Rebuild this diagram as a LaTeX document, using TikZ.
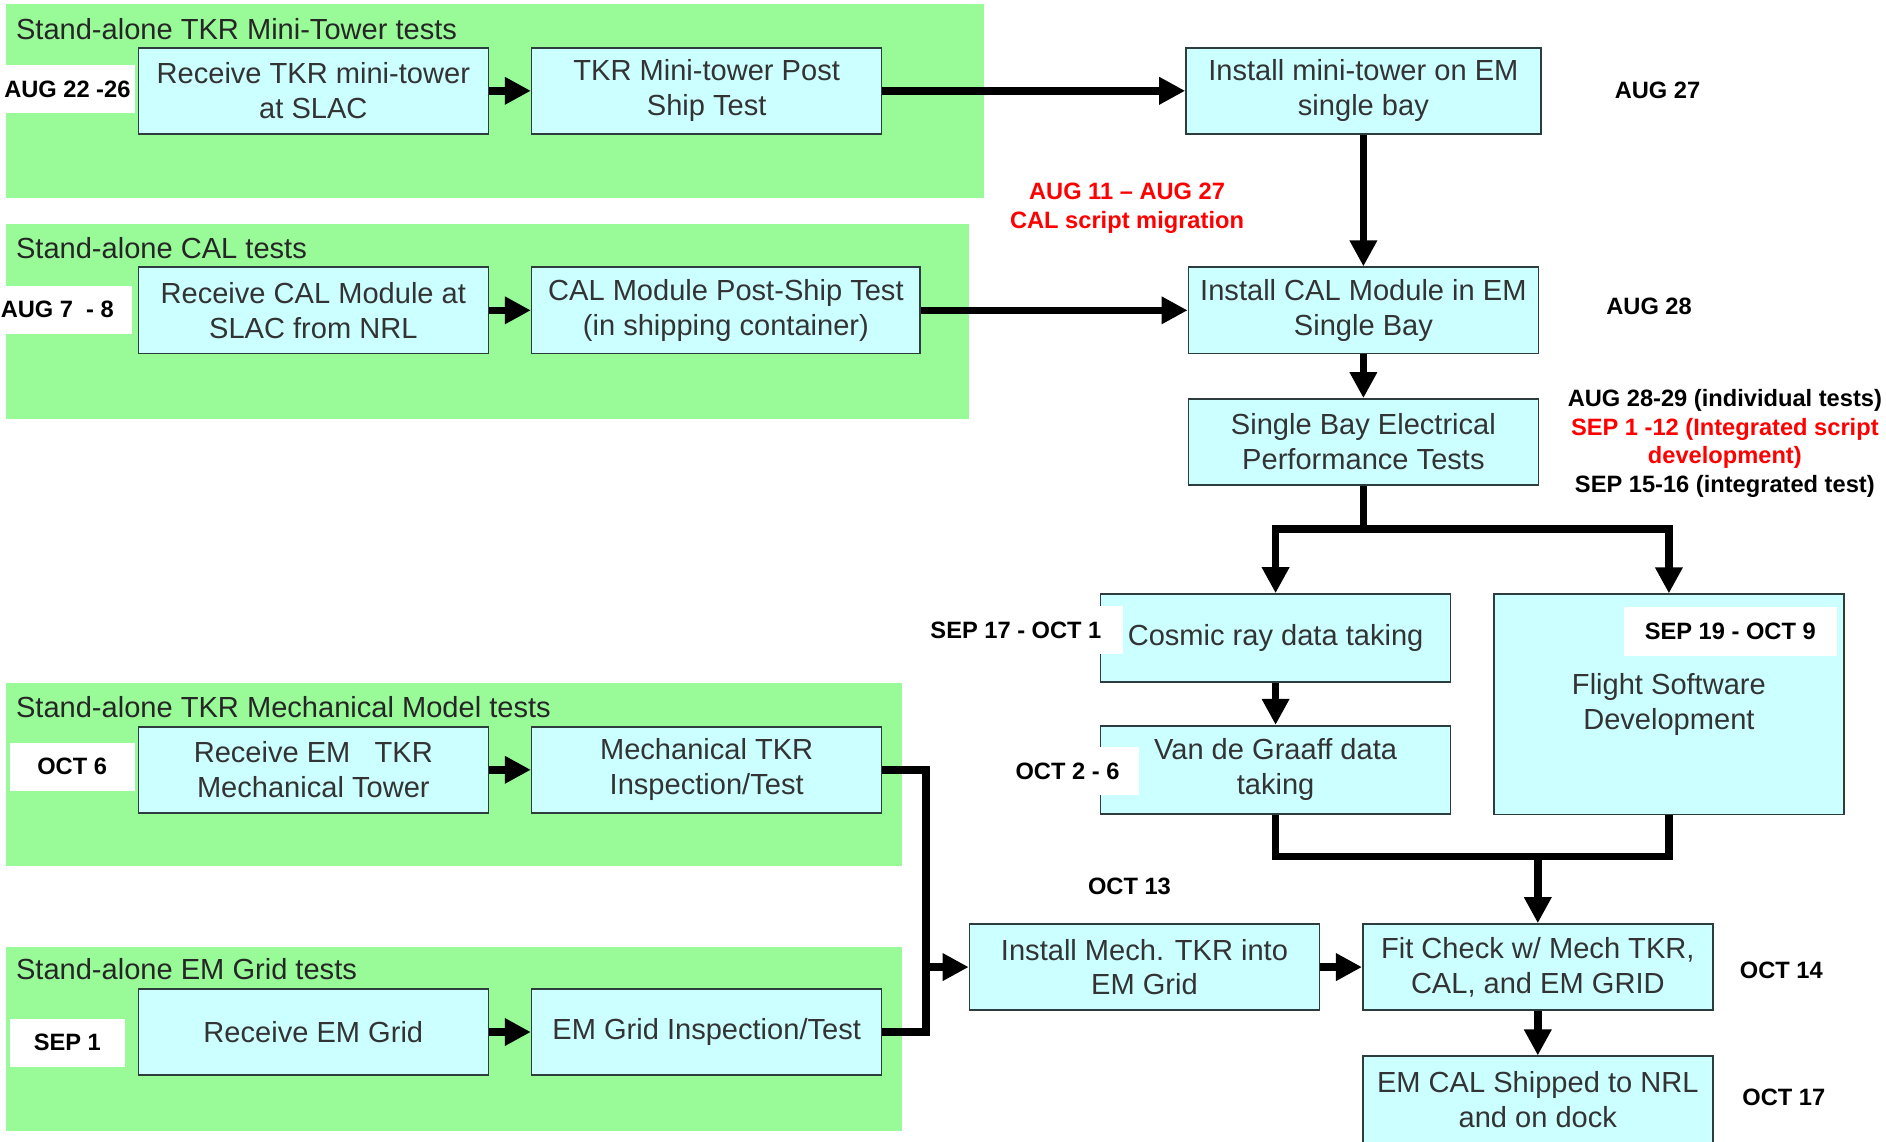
\documentclass[tikz,border=0pt]{standalone}
\usepackage{fontspec}
\setmainfont{Liberation Sans}
\usetikzlibrary{arrows.meta}

\definecolor{grpgreen}{RGB}{152,251,152}
\definecolor{boxcyan}{RGB}{204,255,255}
\definecolor{boxedge}{RGB}{45,60,60}
\newcommand{\boxfont}{\fontsize{14.5}{17.4}\selectfont}
\newcommand{\datefont}{\fontsize{11.8}{14.2}\selectfont\bfseries}

\begin{document}
\begin{tikzpicture}[
x=0.6pt,
y=-0.6pt,
grpbg/.style={
  fill=grpgreen,
  },
grptitle/.style={
  anchor=west,
  font=\boxfont,
  text=black!85,
  inner sep=0pt
  },
task/.style={
  draw=boxedge,
  fill=boxcyan,
  line width=0.8pt,
  align=center,
  font=\boxfont,
  text=black!80,
  minimum width=174.6pt,
  minimum height=43pt,
  inner sep=2pt
  },
datelbl/.style={
  font=\datefont,
  align=center,
  inner sep=0pt
  },
datebox/.style={
  datelbl,
  fill=white,
  minimum height=24pt
  },
flow/.style={
  line width=3.8pt
  },
>={Triangle[length=13pt,width=13pt]}
]
\useasboundingbox (0,0) rectangle (1568,949);

\fill[grpbg] (5,3) rectangle (818,165);
\fill[grpbg] (5,186) rectangle (806,348);
\fill[grpbg] (5,568) rectangle (750,720);
\fill[grpbg] (5,787) rectangle (750,940);
\node[grptitle] (tMini) at (13,24) {Stand-alone TKR Mini-Tower tests};
\node[grptitle] (tCal) at (13,206) {Stand-alone CAL tests};
\node[grptitle] (tMech) at (13,588) {Stand-alone TKR Mechanical Model tests};
\node[grptitle] (tGrid) at (13,806) {Stand-alone EM Grid tests};

\node[task] (recvTkr) at (260.5,75.5) {Receive TKR mini-tower\\at SLAC};
\node[task] (postTkr) at (587.5,75.5) {TKR Mini-tower Post\\Ship Test};
\node[task, minimum width=177pt] (installMini) at (1133.5,75.5) {Install mini-tower on EM\\single bay};
\node[task] (recvCal) at (260.5,258) {Receive CAL Module at\\SLAC from NRL};
\node[task, minimum width=193.8pt] (postCal) at (603.5,258) {CAL Module Post-Ship Test\\(in shipping container)};
\node[task] (installCal) at (1133.5,258) {Install CAL Module in EM\\Single Bay};
\node[task] (elec) at (1133.5,367.5) {Single Bay Electrical\\Performance Tests};
\node[task, minimum height=44pt] (cosmic) at (1060.5,530.5) {Cosmic ray data taking};
\node[task, minimum height=44pt] (vdg) at (1060.5,640) {Van de Graaff data\\taking};
\node[task, minimum height=109.8pt] (flight) at (1387.5,585.5) {Flight Software\\Development};
\node[task] (recvMech) at (260.5,640) {Receive EM~~~TKR\\Mechanical Tower};
\node[task] (mechTest) at (587.5,640) {Mechanical TKR\\Inspection/Test};
\node[task] (recvGrid) at (260.5,858) {Receive EM Grid};
\node[task] (gridTest) at (587.5,858) {EM Grid Inspection/Test};
\node[task] (installMech) at (951.5,804) {Install Mech. TKR into\\EM Grid};
\node[task] (fit) at (1278.5,804) {Fit Check w/ Mech TKR,\\CAL, and EM GRID};
\node[task] (shipped) at (1278.5,914) {EM CAL Shipped to NRL\\and on dock};

\coordinate (split) at (1133.5,440);
\coordinate (merge) at (1278.5,712);
\coordinate (bus) at (770,804);

\foreach \a/\b in {recvTkr/postTkr,recvCal/postCal,recvMech/mechTest,recvGrid/gridTest,
  postTkr/installMini,postCal/installCal,installMini/installCal,installCal/elec,
  cosmic/vdg,installMech/fit,fit/shipped}
  \draw[flow,->] (\a) -- (\b);
\draw[flow] (elec) -- (split);
\draw[flow,->] (split) -| (cosmic);
\draw[flow,->] (split) -| (flight);
\draw[flow] (vdg) |- (merge) -| (flight);
\draw[flow,->] (merge) -- (fit);
\draw[flow] (mechTest) -| (bus) |- (gridTest);
\draw[flow,->] (bus) -- (installMech);

\node[datebox, minimum width=67.2pt] (dMini) at (56,74) {AUG 22 -26};
\node[datebox, anchor=east, inner xsep=9pt] (dCal) at (110,257.5) {AUG 7~ - 8};
\node[datebox, minimum width=62.4pt] (dMech) at (60,637.5) {OCT 6};
\node[datebox, minimum width=57.6pt] (dGrid) at (56,867) {SEP 1};
\node[datebox, anchor=east, inner xsep=10.8pt] (dCosmic) at (934,524) {SEP 17 - OCT 1};
\node[datebox, anchor=east, inner xsep=9.6pt] (dVdg) at (947,641) {OCT 2 - 6};
\node[datebox, minimum width=106.2pt] (dFlight) at (1438.5,525) {SEP 19 - OCT 9};
\node[datelbl] (dInstMini) at (1378,75) {AUG 27};
\node[datelbl] (dInstCal) at (1371,255) {AUG 28};
\node[datelbl, text=red] (dScript) at (937,173) {AUG 11 -- AUG 27\\CAL script migration};
\node[datelbl] (dElec) at (1434,368.5) {AUG 28-29 (individual tests)\\
  \textcolor{red}{SEP 1 -12 (Integrated script}\\
  \textcolor{red}{development)}\\
  SEP 15-16 (integrated test)};
\node[datelbl] (dInstMech) at (939,737) {OCT 13};
\node[datelbl] (dFit) at (1481,807) {OCT 14};
\node[datelbl] (dShip) at (1483,912) {OCT 17};
\end{tikzpicture}
\end{document}
